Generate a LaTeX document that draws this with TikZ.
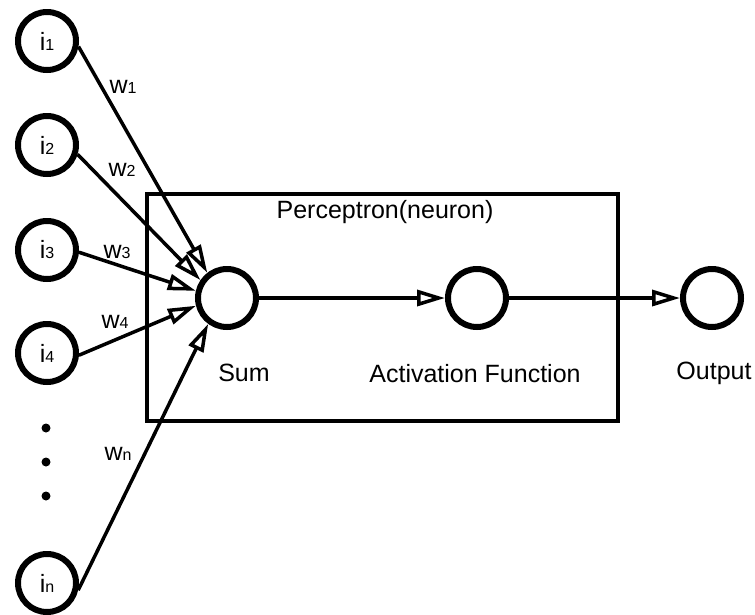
\documentclass[tikz,border=0pt]{standalone}
\usepackage{fontspec}
\setmainfont{Liberation Sans}
\usetikzlibrary{arrows.meta}
\begin{document}
\begin{tikzpicture}[x=1pt,y=-1pt,
  unit/.style={circle,draw,line width=6pt,minimum size=58pt,inner sep=0pt},
  lbl/.style={font=\fontsize{25}{30}\selectfont,inner sep=0pt},
  wire/.style={line width=3.5pt,-{Triangle[open,length=28pt,width=16pt,line width=3.5pt]}},
  dot/.style={circle,fill,inner sep=0pt,minimum size=9pt}]
\newcommand{\sm}[1]{{\fontsize{16}{18}\selectfont #1}}
\useasboundingbox (0,0) rectangle (755,614);
% perceptron frame
\draw[line width=3.2pt] (147,194) rectangle (618,421);
\node[lbl] (title) at (385,212) {Perceptron(neuron)};
% input units
\node[unit,lbl] (i1) at (47,41) {i\sm{1}};
\node[unit,lbl] (i2) at (47,145) {i\sm{2}};
\node[unit,lbl] (i3) at (47,250) {i\sm{3}};
\node[unit,lbl] (i4) at (47,353) {i\sm{4}};
\node[unit,lbl] (in) at (47,583) {i\sm{n}};
\node[dot] (d1) at (46,428) {};
\node[dot] (d2) at (46,462) {};
\node[dot] (d3) at (46,496) {};
% summation, activation and output
\node[unit] (sum) at (227,298) {};
\node[unit] (act) at (477,298) {};
\node[unit] (out) at (712,298) {};
\node[lbl] (sumlbl) at (244,373) {Sum};
\node[lbl] (actlbl) at (475,374) {Activation Function};
\node[lbl] (outlbl) at (714,373) {Output};
% weighted inputs
\draw[wire] (i1.-10) -- (sum.128);
\draw[wire] (i2.-17) -- (sum.146);
\draw[wire] (i3.-4) -- (sum.167);
\draw[wire] (i4.-4) -- (sum.194);
\draw[wire] (in.-13) -- (sum.234);
\node[lbl] (w1) at (123,87) {w\sm{1}};
\node[lbl] (w2) at (122,170) {w\sm{2}};
\node[lbl] (w3) at (117,252) {w\sm{3}};
\node[lbl] (w4) at (115,322) {w\sm{4}};
\node[lbl] (wn) at (118,454) {w\sm{n}};
% forward path
\draw[wire] (sum) -- (act);
\draw[wire] (act) -- (out);
\end{tikzpicture}
\end{document}
